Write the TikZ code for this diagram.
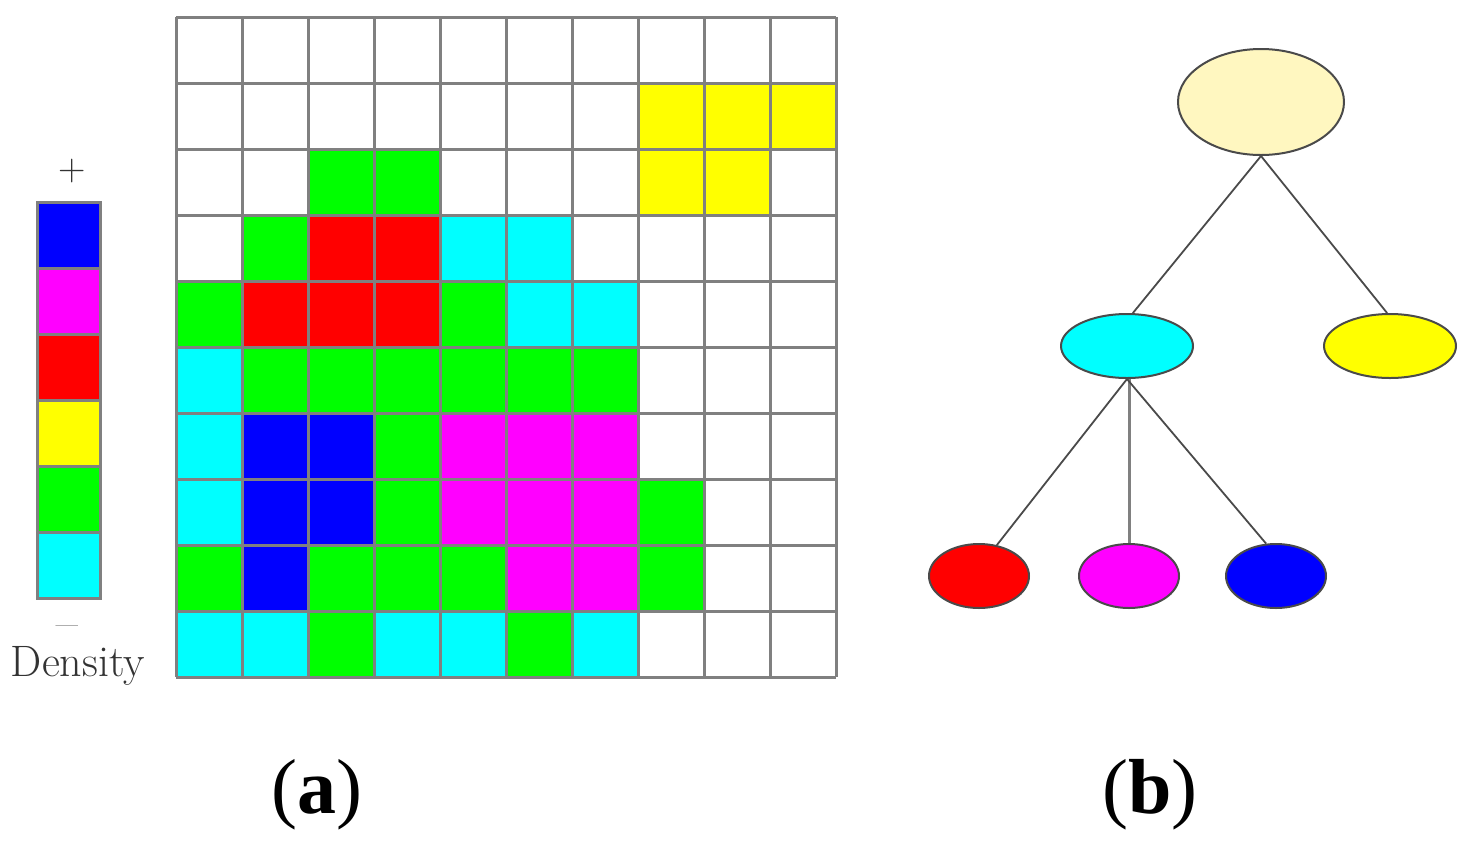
\documentclass[tikz,border=0pt]{standalone}
\usepackage{fontspec}
\newfontfamily\capfont{Liberation Serif}
\usetikzlibrary{shapes.geometric}
\definecolor{gridgray}{HTML}{808080}
\definecolor{edgegray}{HTML}{4A4A4A}
\definecolor{rootfill}{HTML}{FFF7C0}
\definecolor{textgray}{HTML}{333333}
\definecolor{cG}{HTML}{00FF00}
\definecolor{cR}{HTML}{FF0000}
\definecolor{cB}{HTML}{0000FF}
\definecolor{cC}{HTML}{00FFFF}
\definecolor{cM}{HTML}{FF00FF}
\definecolor{cY}{HTML}{FFFF00}
\tikzset{
  gridline/.style={draw=gridgray, line width=3pt},
  tnode/.style={ellipse, draw=edgegray, line width=2pt, inner sep=0pt},
  small/.style={tnode, minimum width=100pt, minimum height=64pt},
  mid/.style={tnode, minimum width=132pt, minimum height=64pt},
  conn/.style={draw=edgegray, line width=1.8pt},
  caption/.style={font=\capfont\fontsize{78}{80}\selectfont, inner sep=0pt, anchor=base},
  legtext/.style={text=textgray, inner sep=0pt},
}
\begin{document}
\begin{tikzpicture}[x=1pt,y=-1pt]
\useasboundingbox (0,0) rectangle (1468,844);
\fill[white] (0,0) rectangle (1468,844);
% grid cells
\foreach \r/\c/\col in {
  1/7/cY,1/8/cY,1/9/cY,
  2/2/cG,2/3/cG,2/7/cY,2/8/cY,
  3/1/cG,3/2/cR,3/3/cR,3/4/cC,3/5/cC,
  4/0/cG,4/1/cR,4/2/cR,4/3/cR,4/4/cG,4/5/cC,4/6/cC,
  5/0/cC,5/1/cG,5/2/cG,5/3/cG,5/4/cG,5/5/cG,5/6/cG,
  6/0/cC,6/1/cB,6/2/cB,6/3/cG,6/4/cM,6/5/cM,6/6/cM,
  7/0/cC,7/1/cB,7/2/cB,7/3/cG,7/4/cM,7/5/cM,7/6/cM,7/7/cG,
  8/0/cG,8/1/cB,8/2/cG,8/3/cG,8/4/cG,8/5/cM,8/6/cM,8/7/cG,
  9/0/cC,9/1/cC,9/2/cG,9/3/cC,9/4/cC,9/5/cG,9/6/cC}
  {\fill[\col] (176+66*\c,17+66*\r) rectangle ++(66,66);}
\foreach \i in {0,...,10} {
  \draw[gridline] (176+66*\i,17) -- (176+66*\i,677);
  \draw[gridline] (176,17+66*\i) -- (836,17+66*\i);
}
% legend
\foreach \k/\col in {0/cB,1/cM,2/cR,3/cY,4/cG,5/cC}
  {\filldraw[fill=\col, gridline] (37.5,202.5+66*\k) rectangle ++(63,66);}
\node[legtext, font=\fontsize{38}{40}\selectfont] (plus) at (72,171) {+};
\node[legtext, font=\fontsize{24}{26}\selectfont, anchor=base] (minus) at (67,632) {\textemdash};
\node[legtext, font=\fontsize{44}{46}\selectfont, anchor=base] (dens) at (78,676) {Density};
% tree
\node[tnode, fill=rootfill, minimum width=166pt, minimum height=106pt] (root) at (1261,102) {};
\node[mid, fill=cC] (cy) at (1127,346) {};
\node[mid, fill=cY] (ye) at (1390,346) {};
\node[small, fill=cR] (re) at (979,576) {};
\node[small, fill=cM] (ma) at (1129,576) {};
\node[small, fill=cB] (bl) at (1276,576) {};
\draw[conn] (root.south) -- (cy.80);
\draw[conn] (root.south) -- (ye.95);
\draw[conn] (cy.south) -- (re.60);
\draw[conn, draw=gridgray, line width=3pt] (cy.south -| ma.north) -- (ma.north);
\draw[conn] (cy.south) -- (bl.107);
% captions
\node[caption] (capa) at (317,813) {(\textbf{a})};
\node[caption] (capb) at (1150,813) {(\textbf{b})};
\end{tikzpicture}
\end{document}
